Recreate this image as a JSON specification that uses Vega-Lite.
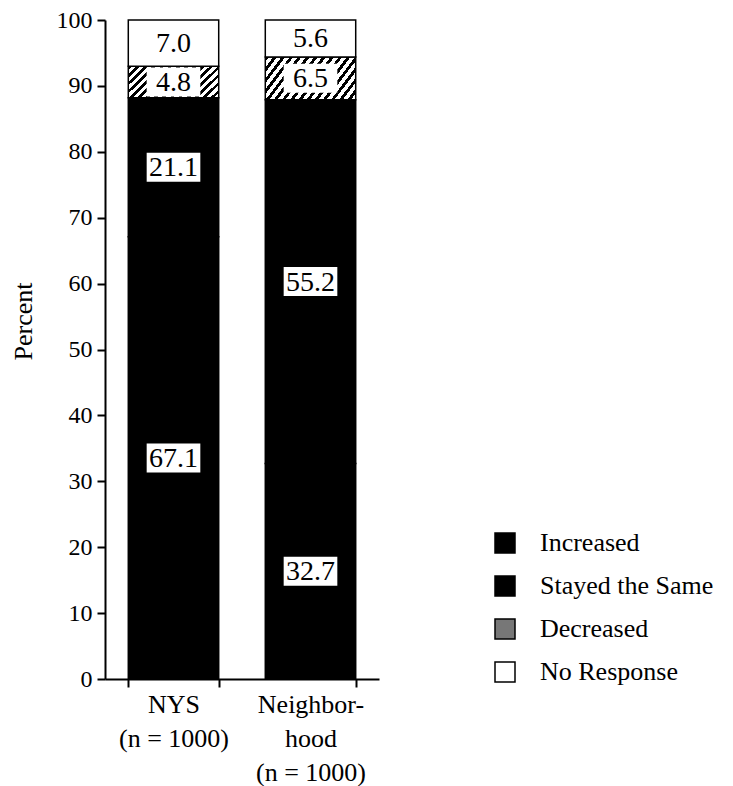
{
  "$schema": "https://vega.github.io/schema/vega-lite/v6.json",
  "autosize": "none",
  "width": 274,
  "height": 659,
  "padding": {"left": 105, "top": 20, "right": 354, "bottom": 107},
  "background": "white",
  "config": {
    "view": {"stroke": null},
    "font": "Liberation Serif",
    "axis": {"labelFont": "Liberation Serif", "titleFont": "Liberation Serif", "labelColor": "black", "titleColor": "black", "domainColor": "black", "tickColor": "black", "domainWidth": 2, "tickWidth": 2, "grid": false, "titleFontWeight": "normal"},
    "legend": {"labelFont": "Liberation Serif", "labelColor": "black", "labelLimit": 400}
  },
  "data": {
    "values": [
      {"group": "NYS", "response": "Increased", "rank": 1, "value": 67.1},
      {"group": "NYS", "response": "Stayed the Same", "rank": 2, "value": 21.1},
      {"group": "NYS", "response": "Decreased", "rank": 3, "value": 4.8},
      {"group": "NYS", "response": "No Response", "rank": 4, "value": 7.0},
      {"group": "Neighborhood", "response": "Increased", "rank": 1, "value": 32.7},
      {"group": "Neighborhood", "response": "Stayed the Same", "rank": 2, "value": 55.2},
      {"group": "Neighborhood", "response": "Decreased", "rank": 3, "value": 6.5},
      {"group": "Neighborhood", "response": "No Response", "rank": 4, "value": 5.6}
    ]
  },
  "transform": [
    {"stack": "value", "groupby": ["group"], "sort": [{"field": "rank", "order": "ascending"}], "as": ["y0", "y1"]},
    {"calculate": "(datum.y0 + datum.y1) / 2", "as": "mid"}
  ],
  "encoding": {
    "x": {
      "field": "group", "type": "nominal", "sort": ["NYS", "Neighborhood"],
      "scale": {"paddingInner": 0.34, "paddingOuter": 0.17},
      "axis": {
        "title": null, "labelAngle": 0, "labelFontSize": 26, "labelLineHeight": 34,
        "labelBaseline": "top", "labelPadding": 4, "tickSize": 8, "tickBand": "extent",
        "labelFont": "Liberation Serif",
        "labelExpr": "datum.value === 'NYS' ? ['NYS', ' ', '(n = 1000)'] : (datum.value === 'Neighborhood' ? ['Neighbor-', 'hood', '(n = 1000)'] : '')"
      }
    }
  },
  "layer": [
    {
      "mark": {"type": "bar", "stroke": "black", "strokeWidth": 1.5, "fillOpacity": 1},
      "encoding": {
        "y": {
          "field": "y1", "type": "quantitative",
          "scale": {"domain": [0, 100], "nice": false},
          "axis": {"title": "Percent", "titleFont": "Liberation Serif", "labelFont": "Liberation Serif", "titleFontSize": 26, "titleY": 301, "titlePadding": 20, "values": [0, 10, 20, 30, 40, 50, 60, 70, 80, 90, 100], "labelFontSize": 24, "tickSize": 8, "labelPadding": 5}
        },
        "y2": {"field": "y0"},
        "fill": {
          "field": "response", "type": "nominal",
          "scale": {"domain": ["Increased", "Stayed the Same", "Decreased", "No Response"], "range": ["#000000", "#000000", "#777777", "#ffffff"]},
          "condition": {
            "test": "datum.response === 'Decreased'",
            "value": {
              "gradient": "linear", "x1": 0, "y1": 0, "x2": 1.2, "y2": 0.43,
              "stops": [
                {"offset": 0, "color": "#000"}, {"offset": 0.03, "color": "#000"}, {"offset": 0.03, "color": "#fff"}, {"offset": 0.0667, "color": "#fff"},
                {"offset": 0.0667, "color": "#000"}, {"offset": 0.0967, "color": "#000"}, {"offset": 0.0967, "color": "#fff"}, {"offset": 0.1333, "color": "#fff"},
                {"offset": 0.1333, "color": "#000"}, {"offset": 0.1633, "color": "#000"}, {"offset": 0.1633, "color": "#fff"}, {"offset": 0.2, "color": "#fff"},
                {"offset": 0.2, "color": "#000"}, {"offset": 0.23, "color": "#000"}, {"offset": 0.23, "color": "#fff"}, {"offset": 0.2667, "color": "#fff"},
                {"offset": 0.2667, "color": "#000"}, {"offset": 0.2967, "color": "#000"}, {"offset": 0.2967, "color": "#fff"}, {"offset": 0.3333, "color": "#fff"},
                {"offset": 0.3333, "color": "#000"}, {"offset": 0.3633, "color": "#000"}, {"offset": 0.3633, "color": "#fff"}, {"offset": 0.4, "color": "#fff"},
                {"offset": 0.4, "color": "#000"}, {"offset": 0.43, "color": "#000"}, {"offset": 0.43, "color": "#fff"}, {"offset": 0.4667, "color": "#fff"},
                {"offset": 0.4667, "color": "#000"}, {"offset": 0.4967, "color": "#000"}, {"offset": 0.4967, "color": "#fff"}, {"offset": 0.5333, "color": "#fff"},
                {"offset": 0.5333, "color": "#000"}, {"offset": 0.5633, "color": "#000"}, {"offset": 0.5633, "color": "#fff"}, {"offset": 0.6, "color": "#fff"},
                {"offset": 0.6, "color": "#000"}, {"offset": 0.63, "color": "#000"}, {"offset": 0.63, "color": "#fff"}, {"offset": 0.6667, "color": "#fff"},
                {"offset": 0.6667, "color": "#000"}, {"offset": 0.6967, "color": "#000"}, {"offset": 0.6967, "color": "#fff"}, {"offset": 0.7333, "color": "#fff"},
                {"offset": 0.7333, "color": "#000"}, {"offset": 0.7633, "color": "#000"}, {"offset": 0.7633, "color": "#fff"}, {"offset": 0.8, "color": "#fff"},
                {"offset": 0.8, "color": "#000"}, {"offset": 0.83, "color": "#000"}, {"offset": 0.83, "color": "#fff"}, {"offset": 0.8667, "color": "#fff"},
                {"offset": 0.8667, "color": "#000"}, {"offset": 0.8967, "color": "#000"}, {"offset": 0.8967, "color": "#fff"}, {"offset": 0.9333, "color": "#fff"},
                {"offset": 0.9333, "color": "#000"}, {"offset": 0.9633, "color": "#000"}, {"offset": 0.9633, "color": "#fff"}, {"offset": 1, "color": "#fff"}
              ]
            }
          },
          "legend": {
            "title": null, "orient": "none", "legendX": 387, "legendY": 510, "padding": 0,
            "symbolType": "square", "symbolSize": 400, "symbolStrokeColor": "black", "symbolStrokeWidth": 1.5,
            "labelFontSize": 26, "labelOffset": 22, "rowPadding": 17, "labelFont": "Liberation Serif",
            "encode": {
              "symbols": {
                "update": {
                  "fillOpacity": {"value": 1},
                  "stroke": {"value": "black"},
                  "strokeWidth": {"value": 1.5}
                }
              }
            }
          }
        }
      }
    },
    {
      "mark": {"type": "point", "shape": "M-1.85,-1L1.85,-1L1.85,1L-1.85,1Z", "size": 841, "filled": true, "fill": "white", "stroke": null, "opacity": 1},
      "encoding": {
        "y": {"field": "mid", "type": "quantitative"}
      }
    },
    {
      "mark": {"type": "text", "font": "Liberation Serif", "fontSize": 28, "color": "black", "baseline": "middle", "dy": 1},
      "encoding": {
        "y": {"field": "mid", "type": "quantitative"},
        "text": {"field": "value", "type": "quantitative", "format": ".1f"}
      }
    }
  ]
}
